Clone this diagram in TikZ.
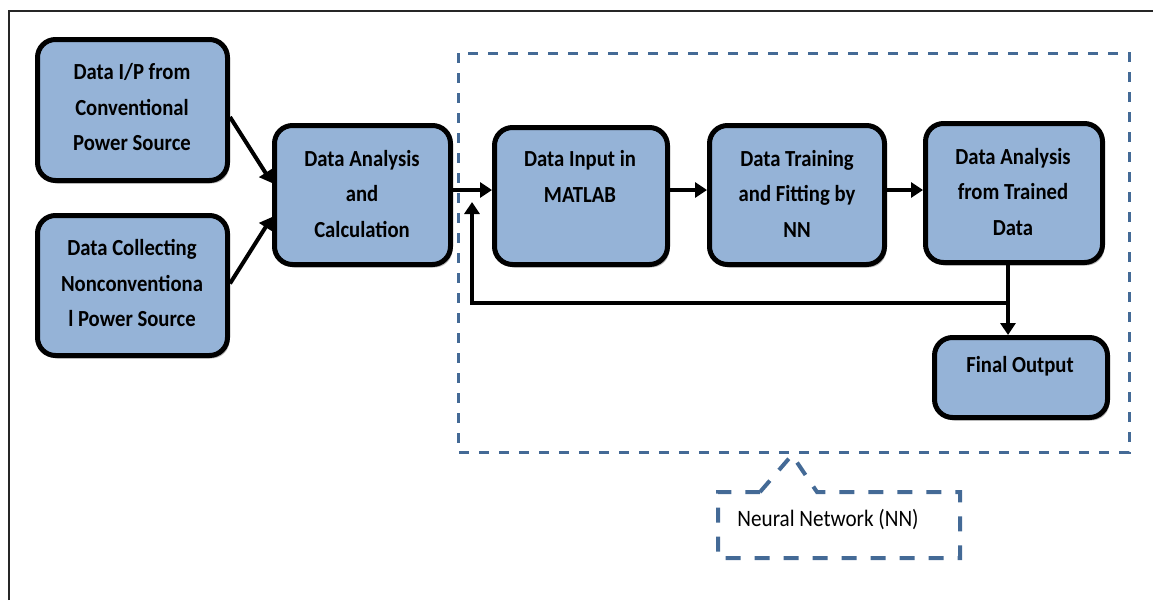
\documentclass[tikz,border=0pt]{standalone}
\usepackage{fontspec}
\setmainfont{Carlito}[FakeStretch=0.9]
\usetikzlibrary{arrows.meta,shadows}
\definecolor{boxfill}{RGB}{149,179,215}
\definecolor{dashblue}{RGB}{68,106,150}
\begin{document}
\begin{tikzpicture}[x=1pt,y=-1pt,
  box/.style={draw=black, line width=5pt, fill=boxfill, rounded corners=18pt, inner sep=0pt,
    drop shadow={shadow xshift=2pt, shadow yshift=-3pt, fill=black!45, opacity=0.6}},
  txt/.style={align=center, font=\fontsize{23}{35.5}\selectfont\bfseries, inner sep=0pt, text=black},
  arr/.style={line width=4pt, -{Triangle[length=12pt,width=15pt]}},
  conn/.style={line width=4pt},
  nnbox/.style={draw=dashblue, line width=3pt, dash pattern=on 10pt off 10pt},
  callout/.style={draw=dashblue, line width=4pt, dash pattern=on 15pt off 14pt, line join=miter}
]
\useasboundingbox (0,0) rectangle (1153,600);
% outer frame
\draw[line width=2pt, black!85] (9,600) -- (9,11) -- (1153,11);

% neural network dashed region
\draw[nnbox] (458,53) rectangle (1129,452);

% boxes
\node[box, minimum width=190pt, minimum height=141pt] (b1) at (132.5,110) {};
\node[box, minimum width=190pt, minimum height=140pt] (b2) at (132.5,285.5) {};
\node[box, minimum width=176pt, minimum height=139pt] (b3) at (362.5,195) {};
\node[box, minimum width=173pt, minimum height=137pt] (b4) at (581,196) {};
\node[box, minimum width=175pt, minimum height=139pt] (b5) at (797,195) {};
\node[box, minimum width=177pt, minimum height=139pt] (b6) at (1014,193) {};
\node[box, minimum width=173pt, minimum height=80pt] (b7) at (1021,377.5) {};

% texts
\node[txt] (t1) at (132,107.5) {Data I/P from\\Conventional\\Power Source};
\node[txt] (t2) at (132,283) {Data Collecting\\Nonconventiona\\l Power Source};
\node[txt] (t3) at (362,194) {Data Analysis\\and\\Calculation};
\node[txt] (t4) at (580,176.5) {Data Input in\\MATLAB};
\node[txt] (t5) at (797,193.5) {Data Training\\and Fitting by\\NN};
\node[txt] (t6) at (1013,192) {Data Analysis\\from Trained\\Data};
\node[txt] (t7) at (1020,366) {Final Output};

% connectors
\draw[arr] ([yshift=-7pt]b1.east) -- ([yshift=12pt]b3.west);
\draw[arr] ([yshift=2pt]b2.east) -- ([yshift=-22pt]b3.west);
\draw[arr] ([yshift=5pt]b3.east) -- ([yshift=6pt]b4.west);
\draw[arr] ([yshift=6pt]b4.east) -- ([yshift=5pt]b5.west);
\draw[arr] ([yshift=5pt]b5.east) -- ([yshift=3pt]b6.west);

\coordinate (j) at (1008,303);
\coordinate (fb) at (472,202);
\draw[conn] ([xshift=-6pt]b6.south) -- (j);
\draw[arr] (j) -| (fb);
\draw[arr] (j) -- (j |- b7.north);

% callout
\draw[callout] (760,492) -- (792,455) -- (817,492) -- (960,492) -- (960,558) -- (718,558) -- (718,492) -- cycle;
\node[font=\fontsize{23.5}{28}\selectfont, inner sep=0pt] (nn) at (828,520) {Neural Network (NN)};
\end{tikzpicture}
\end{document}
